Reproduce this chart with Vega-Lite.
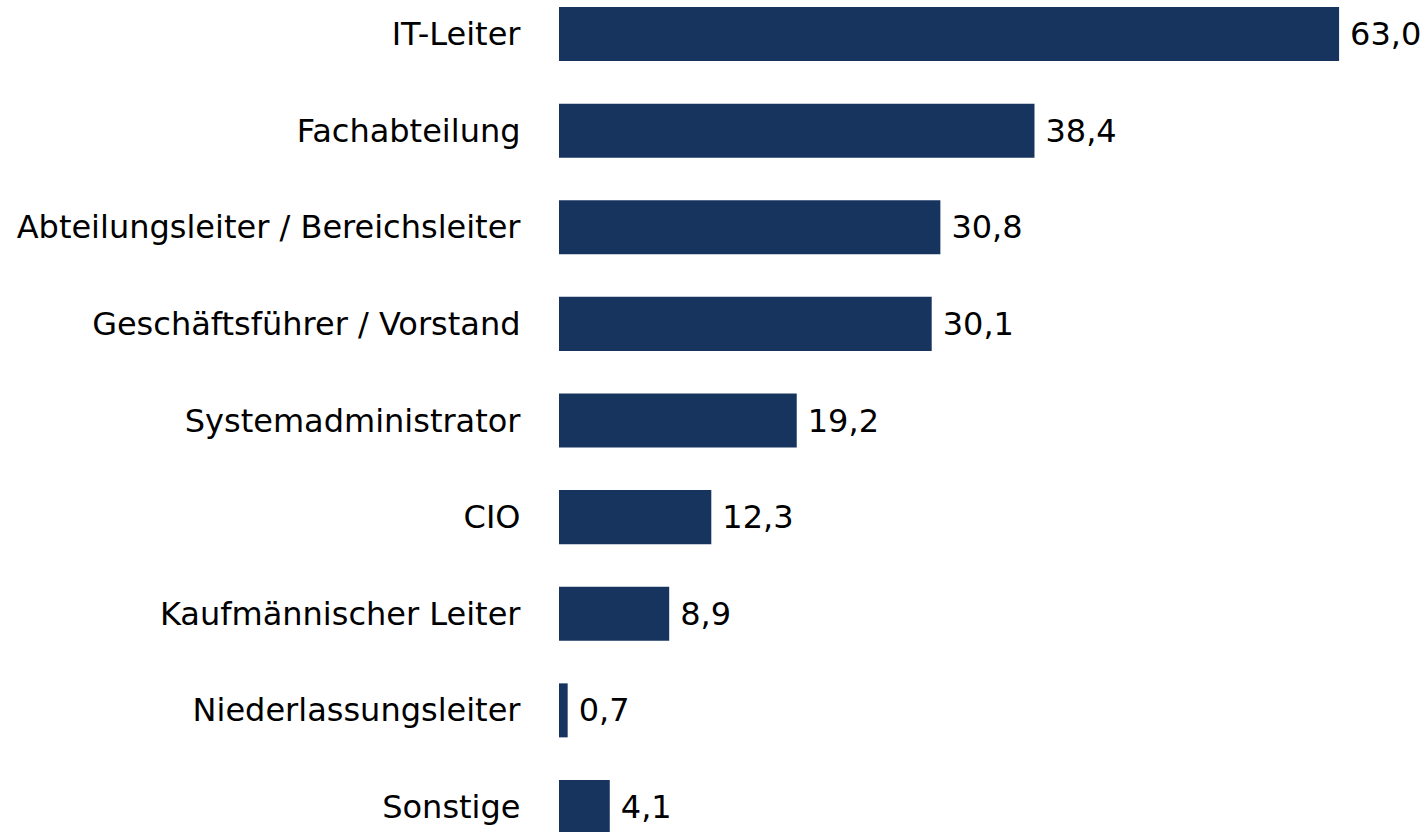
{
  "$schema": "https://vega.github.io/schema/vega-lite/v6.json",
  "autosize": {"type": "none"},
  "padding": {"left": 559, "top": 0, "right": 0, "bottom": 0},
  "width": 868,
  "height": 841,
  "background": "white",
  "config": {
    "view": {"stroke": null},
    "locale": {"number": {"decimal": ",", "thousands": ".", "grouping": [3], "currency": ["", " €"]}},
    "font": "DejaVu Sans"
  },
  "data": {
    "values": [
      {"kategorie": "IT-Leiter", "wert": 63.0},
      {"kategorie": "Fachabteilung", "wert": 38.4},
      {"kategorie": "Abteilungsleiter / Bereichsleiter", "wert": 30.8},
      {"kategorie": "Geschäftsführer / Vorstand", "wert": 30.1},
      {"kategorie": "Systemadministrator", "wert": 19.2},
      {"kategorie": "CIO", "wert": 12.3},
      {"kategorie": "Kaufmännischer Leiter", "wert": 8.9},
      {"kategorie": "Niederlassungsleiter", "wert": 0.7},
      {"kategorie": "Sonstige", "wert": 4.1}
    ]
  },
  "encoding": {
    "y": {
      "field": "kategorie",
      "type": "nominal",
      "sort": null,
      "scale": {"paddingInner": 0.441, "paddingOuter": 0.0725},
      "axis": {
        "title": null,
        "domain": false,
        "ticks": false,
        "labelFontSize": 32,
        "labelFont": "DejaVu Sans",
        "labelColor": "#000000",
        "labelPadding": 39,
        "labelLimit": 600,
        "labelBaseline": "middle",
        "labelOffset": 1
      }
    },
    "x": {
      "field": "wert",
      "type": "quantitative",
      "scale": {"domain": [0, 70.1], "nice": false, "zero": true},
      "axis": null
    }
  },
  "layer": [
    {"mark": {"type": "bar", "color": "#17345f"}},
    {
      "mark": {"type": "text", "align": "left", "baseline": "middle", "dx": 11, "dy": 1, "fontSize": 32, "font": "DejaVu Sans", "color": "#000000"},
      "encoding": {"text": {"field": "wert", "type": "quantitative", "format": ".1f"}}
    }
  ]
}
